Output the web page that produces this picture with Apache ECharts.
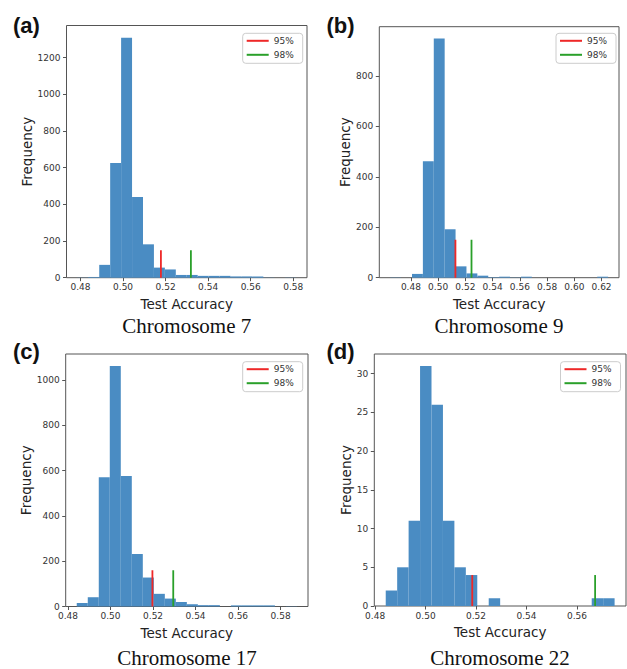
<!DOCTYPE html>
<html><head><meta charset="utf-8">
<script src="https://cdn.jsdelivr.net/npm/echarts@6/dist/echarts.min.js"></script>
<style>html,body{margin:0;padding:0;background:#fff}#c{width:627px;height:669px}</style>
</head><body><div id="c"></div>
<script>
// ---- data ----
const panelLetters = ['(a)', '(b)', '(c)', '(d)'];
const captions = ['Chromosome 7', 'Chromosome 9', 'Chromosome 17', 'Chromosome 22'];
const legendNames = ['95%', '98%'];

// histogram bins: first edge, bin width, counts (20 bins each)
const binStartA = 0.4785, binWidthA = 0.005145;
const countsA = [1, 4, 70, 625, 1308, 440, 182, 55, 45, 15, 15, 10, 10, 10, 7, 7, 7, 1, 0, 1];
const binStartB = 0.4648, binWidthB = 0.008;
const countsB = [1, 0, 15, 462, 948, 192, 45, 17, 8, 2, 4, 1, 4, 0, 0, 0, 0, 0, 0, 4];
const binStartC = 0.4841, binWidthC = 0.00518;
const countsC = [15, 41, 571, 1063, 577, 232, 128, 56, 35, 20, 10, 6, 6, 0, 5, 5, 5, 5, 0, 1];
const binStartD = 0.4842, binWidthD = 0.004536;
const countsD = [2, 5, 11, 31, 26, 11, 5, 4, 0, 1, 0, 0, 0, 0, 0, 0, 0, 0, 1, 1];

// threshold lines (x position) and their drawn height
const line95 = [0.5178, 0.5127, 0.5197, 0.5185];
const line98 = [0.5319, 0.5245, 0.5295, 0.5672];
const lineHeights = [150, 150, 160, 4];

// axis ranges
const xMins = [0.4734, 0.4568, 0.4789, 0.47967];
const xMaxs = [0.5865, 0.6328, 0.5929, 0.57944];
const yMaxs = [1375, 995, 1116, 32.55];

// tick values
const xTicksA = [0.48, 0.50, 0.52, 0.54, 0.56, 0.58];
const xTicksB = [0.48, 0.50, 0.52, 0.54, 0.56, 0.58, 0.60, 0.62];
const xTicksC = [0.48, 0.50, 0.52, 0.54, 0.56, 0.58];
const xTicksD = [0.48, 0.50, 0.52, 0.54, 0.56];
const yTicksA = [0, 200, 400, 600, 800, 1000, 1200];
const yTicksB = [0, 200, 400, 600, 800];
const yTicksC = [0, 200, 400, 600, 800, 1000];
const yTicksD = [0, 5, 10, 15, 20, 25, 30];

const xLabel = 'Test Accuracy';
const yLabel = 'Frequency';

// ---- layout ----
const binStarts = [binStartA, binStartB, binStartC, binStartD];
const binWidths = [binWidthA, binWidthB, binWidthC, binWidthD];
const countsAll = [countsA, countsB, countsC, countsD];
const xTicksAll = [xTicksA, xTicksB, xTicksC, xTicksD];
const yTicksAll = [yTicksA, yTicksB, yTicksC, yTicksD];

const grids = [
  {left: 66.5, top: 25.5, width: 240.5, height: 252.2},
  {left: 379.3, top: 26.7, width: 239.7, height: 251},
  {left: 65.7, top: 354, width: 242.3, height: 252.5},
  {left: 374.3, top: 354, width: 251.7, height: 252}
];
const yNameGaps = [31, 27, 30.5, 21.5];
const letterPos = [[13, 14], [326.5, 14], [13, 340.5], [326.5, 340.5]];
const captionPos = [[186.75, 315.5], [499, 315.5], [187, 647.5], [500, 647.5]];
const legendPos = [[242.7, 33.3], [556, 33.3], [242.7, 361.7], [560.5, 361.7]];

const BAR = '#4a8cc3';
const RED = '#ee2828';
const GREEN = '#2aa02a';
const FRAME = '#555';
const TXT = '#333';

const chart = echarts.init(document.getElementById('c'), null, {renderer: 'svg', width: 627, height: 669});

const option = {
  animation: false,
  backgroundColor: '#fff',
  title: [],
  grid: [],
  xAxis: [],
  yAxis: [],
  legend: [],
  series: []
};

for (let i = 0; i < 4; i++) {
  option.grid.push(Object.assign({show: true, borderColor: FRAME, borderWidth: 1, backgroundColor: 'transparent', containLabel: false}, grids[i]));
  option.title.push({text: panelLetters[i], left: letterPos[i][0], top: letterPos[i][1], padding: 0,
    textStyle: {fontFamily: 'Liberation Sans', fontWeight: 'bold', fontSize: 22, color: '#111'}});
  option.title.push({text: captions[i], left: captionPos[i][0], top: captionPos[i][1], padding: 0, textAlign: 'center',
    textStyle: {fontFamily: 'Liberation Serif', fontWeight: 'normal', fontSize: 21, color: '#111'}});
  option.xAxis.push({
    type: 'value', gridIndex: i, min: xMins[i], max: xMaxs[i],
    name: xLabel, nameLocation: 'middle', nameGap: 19,
    nameTextStyle: {fontFamily: 'DejaVu Sans', fontSize: 13.5, color: '#222'},
    axisLine: {show: false},
    splitLine: {show: false},
    axisTick: {show: true, length: 3.5, lineStyle: {color: FRAME, width: 1}, customValues: xTicksAll[i]},
    axisLabel: {show: true, margin: 5, fontFamily: 'DejaVu Sans', fontSize: 9, color: TXT,
      customValues: xTicksAll[i], formatter: v => v.toFixed(2)}
  });
  option.yAxis.push({
    type: 'value', gridIndex: i, min: 0, max: yMaxs[i],
    name: yLabel, nameLocation: 'middle', nameGap: yNameGaps[i], nameRotate: 90,
    nameTextStyle: {fontFamily: 'DejaVu Sans', fontSize: 13.5, color: '#222'},
    axisLine: {show: false},
    splitLine: {show: false},
    axisTick: {show: true, length: 3.5, lineStyle: {color: FRAME, width: 1}, customValues: yTicksAll[i]},
    axisLabel: {show: true, margin: 6, fontFamily: 'DejaVu Sans', fontSize: 9, color: TXT,
      customValues: yTicksAll[i], formatter: v => String(Math.round(v))}
  });
  option.legend.push({
    data: legendNames, orient: 'vertical', left: legendPos[i][0], top: legendPos[i][1],
    icon: 'rect', itemWidth: 22, itemHeight: 2, itemGap: 5,
    padding: [3, 9, 4, 4], borderColor: '#cccccc', borderWidth: 1, borderRadius: 3,
    backgroundColor: 'rgba(255,255,255,0.85)', selectedMode: false,
    textStyle: {fontFamily: 'DejaVu Sans', fontSize: 9, color: TXT}
  });
  const st = binStarts[i], w = binWidths[i];
  option.series.push({
    type: 'custom', name: 'hist' + i, xAxisIndex: i, yAxisIndex: i,
    encode: {x: [0, 1], y: 2},
    data: countsAll[i].map((c, k) => [st + k * w, st + (k + 1) * w, c]),
    renderItem: function (params, api) {
      const p0 = api.coord([api.value(0), api.value(2)]);
      const p1 = api.coord([api.value(1), 0]);
      return {type: 'rect', shape: {x: p0[0], y: p0[1], width: p1[0] - p0[0], height: p1[1] - p0[1]},
        style: {fill: BAR}};
    },
    z: 2
  });
  option.series.push({
    type: 'line', name: legendNames[0], xAxisIndex: i, yAxisIndex: i, color: RED,
    showSymbol: false, symbol: 'none', lineStyle: {color: RED, width: 1.8},
    data: [[line95[i], 0], [line95[i], lineHeights[i]]], z: 3, silent: true
  });
  option.series.push({
    type: 'line', name: legendNames[1], xAxisIndex: i, yAxisIndex: i, color: GREEN,
    showSymbol: false, symbol: 'none', lineStyle: {color: GREEN, width: 1.8},
    data: [[line98[i], 0], [line98[i], lineHeights[i]]], z: 3, silent: true
  });
}

chart.setOption(option);
</script></body></html>
